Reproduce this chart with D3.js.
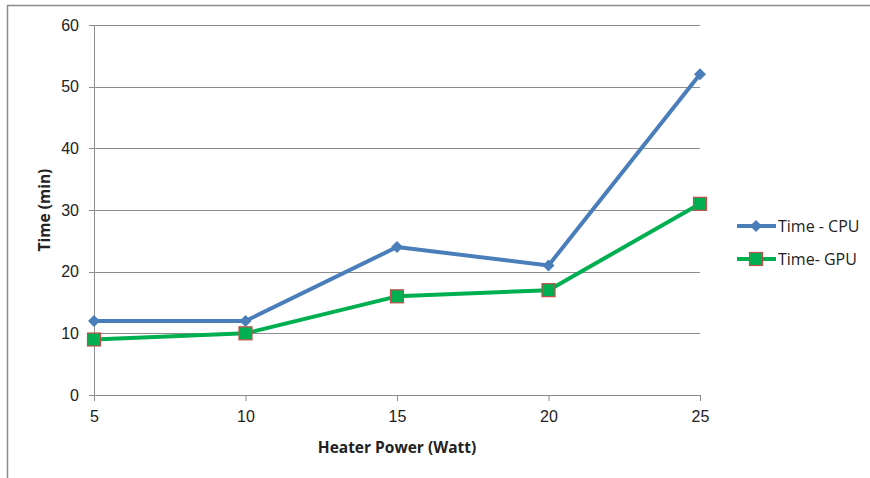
<!DOCTYPE html>
<html>
<head>
<meta charset="utf-8">
<script src="https://cdn.jsdelivr.net/npm/d3@7"></script>
<style>
  body { margin: 0; background: #fff; }
  svg { font-family: "Open Sans", sans-serif; }
</style>
</head>
<body>
<div id="chart"></div>
<script>
// data
power = [5, 10, 15, 20, 25]
cpuTime = [12, 12, 24, 21, 52]
gpuTime = [9, 10, 16, 17, 31]
yTicks = [0, 10, 20, 30, 40, 50, 60]
seriesNames = ["Time - CPU", "Time- GPU"]

width = 870
height = 478
margin = ({top: 25, right: 170, bottom: 83, left: 94})
plotW = 700 - margin.left
plotH = 395 - margin.top

const svg = d3.select("#chart").append("svg")
  .attr("width", width)
  .attr("height", height)

// outer frame (only top and left visible)
svg.append("path")
  .attr("d", "M7.5," + height + "V5.5H" + width)
  .attr("fill", "none")
  .attr("stroke", "#8c8c8c")
  .attr("stroke-width", 1.5)

const g = svg.append("g")
  .attr("transform", `translate(${margin.left}, ${margin.top})`)

x = d3.scaleLinear().domain([5, 25]).range([0, plotW])
y = d3.scaleLinear().domain([0, 60]).range([plotH, 0])

// gridlines
g.append("g")
  .selectAll("line")
  .data(yTicks)
  .join("line")
  .attr("x1", -5)
  .attr("x2", plotW)
  .attr("y1", d => Math.round(y(d)) + 0.5)
  .attr("y2", d => Math.round(y(d)) + 0.5)
  .attr("stroke", "#8c8c8c")
  .attr("stroke-width", 1)

// y axis
const yAxis = g.append("g")
  .call(d3.axisLeft(y).tickValues(yTicks).tickSize(0).tickPadding(15))
yAxis.select(".domain").attr("stroke", "#8c8c8c")
yAxis.selectAll("text").attr("font-size", "16px").attr("fill", "#222")

// x axis
const xAxis = g.append("g")
  .attr("transform", "translate(0," + plotH + ")")
  .call(d3.axisBottom(x).tickValues(power).tickSize(6).tickSizeOuter(0).tickPadding(10))
xAxis.select(".domain").attr("stroke", "#8c8c8c")
xAxis.selectAll("line").attr("stroke", "#8c8c8c")
xAxis.selectAll("text").attr("font-size", "16px").attr("fill", "#222")

// axis titles
svg.append("text")
  .attr("x", margin.left + plotW / 2)
  .attr("y", 453)
  .attr("text-anchor", "middle")
  .attr("font-size", "15.5px")
  .attr("font-weight", "bold")
  .attr("fill", "#222")
  .text("Heater Power (Watt)")

svg.append("text")
  .attr("transform", "translate(50," + (margin.top + plotH / 2) + ") rotate(-90)")
  .attr("text-anchor", "middle")
  .attr("font-size", "15.5px")
  .attr("font-weight", "bold")
  .attr("fill", "#222")
  .text("Time (min)")

cpuColor = "#4a7ebb"
gpuColor = "#00b050"

line = d3.line()
  .x((d, i) => x(power[i]))
  .y(d => y(d))

g.append("path")
  .datum(cpuTime)
  .attr("fill", "none")
  .attr("stroke", cpuColor)
  .attr("stroke-width", 4)
  .attr("stroke-linejoin", "round")
  .attr("d", line)

g.append("path")
  .datum(gpuTime)
  .attr("fill", "none")
  .attr("stroke", gpuColor)
  .attr("stroke-width", 4)
  .attr("stroke-linejoin", "round")
  .attr("d", line)

// diamond markers: a square turned 45 degrees
g.selectAll(".cpuDot")
  .data(cpuTime)
  .join("path")
  .attr("class", "cpuDot")
  .attr("d", d3.symbol().type(d3.symbolSquare).size(72))
  .attr("transform", (d, i) => "translate(" + x(power[i]) + "," + y(d) + ") rotate(45)")
  .attr("fill", cpuColor)

g.selectAll(".gpuDot")
  .data(gpuTime)
  .join("rect")
  .attr("class", "gpuDot")
  .attr("x", (d, i) => x(power[i]) - 6.5)
  .attr("y", d => y(d) - 6.5)
  .attr("width", 13)
  .attr("height", 13)
  .attr("fill", gpuColor)
  .attr("stroke", "#c0504d")
  .attr("stroke-width", 1.2)

// legend
legendColors = [cpuColor, gpuColor]
const legend = svg.selectAll(".legend")
  .data(seriesNames)
  .join("g")
  .attr("class", "legend")
  .attr("transform", (d, i) => "translate(737," + (226 + i * 33) + ")")

legend.append("line")
  .attr("x1", 0).attr("x2", 39)
  .attr("stroke", (d, i) => legendColors[i])
  .attr("stroke-width", 4)

legend.filter((d, i) => i == 0).append("path")
  .attr("d", d3.symbol().type(d3.symbolSquare).size(72))
  .attr("transform", "translate(19,0) rotate(45)")
  .attr("fill", cpuColor)

legend.filter((d, i) => i == 1).append("rect")
  .attr("x", 12.5).attr("y", -6.5)
  .attr("width", 13).attr("height", 13)
  .attr("fill", gpuColor)
  .attr("stroke", "#c0504d")
  .attr("stroke-width", 1.2)

legend.append("text")
  .attr("x", 41)
  .attr("dy", "0.35em")
  .attr("font-size", "16px")
  .attr("fill", "#222")
  .text(d => d)
</script>
</body>
</html>
